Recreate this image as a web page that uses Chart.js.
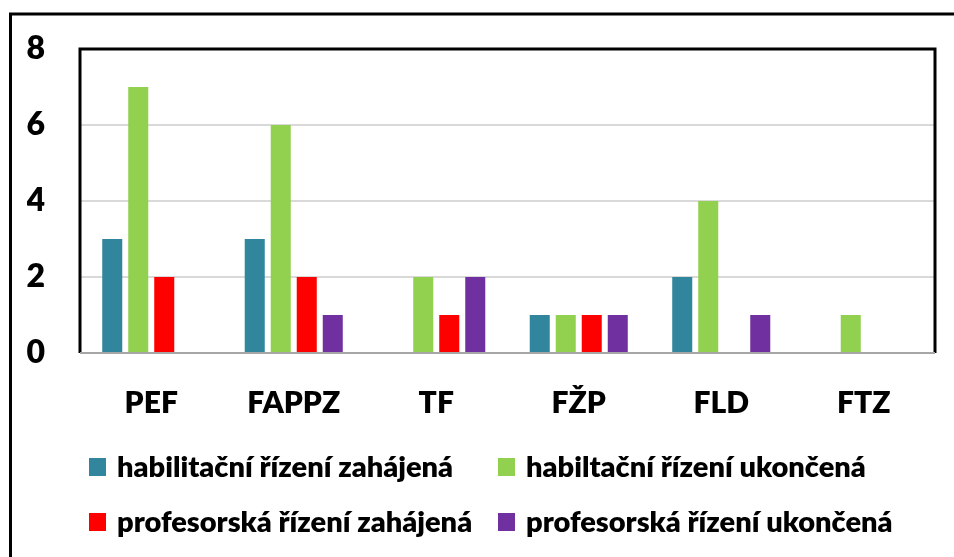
<!DOCTYPE html>
<html>
<head>
<meta charset="utf-8">
<script src="https://cdn.jsdelivr.net/npm/chart.js@4"></script>
<style>
  html, body { margin: 0; padding: 0; background: #fff; }
  #wrap { position: relative; width: 954px; height: 557px; }
</style>
</head>
<body>
<div id="wrap"><canvas id="chart" width="954" height="557"></canvas></div>
<script>
// fakulty
var categories = ['PEF', 'FAPPZ', 'TF', 'FŽP', 'FLD', 'FTZ'];

// počty řízení
var habZahajena = [3, 3, 0, 1, 2, 0];
var habUkoncena = [7, 6, 2, 1, 4, 1];
var profZahajena = [2, 2, 1, 1, 0, 0];
var profUkoncena = [0, 1, 2, 1, 1, 0];

var seriesLabels = ['habilitační řízení zahájená', 'habiltační řízení ukončená',
                    'profesorská řízení zahájená', 'profesorská řízení ukončená'];
var seriesColors = ['#31859C', '#92D050', '#FF0000', '#7030A0'];

var fontFam = 'Lato, "Open Sans", sans-serif';
var fontWeight = 800;

// rámeček okolo celého grafu + rámeček plochy grafu
var framePlugin = {
    id: 'frame',
    beforeDraw: function (chart) {
        var ctx = chart.ctx;
        ctx.save();
        ctx.fillStyle = '#fff';
        ctx.fillRect(0, 0, chart.width, chart.height);
        ctx.strokeStyle = '#000';
        ctx.lineWidth = 3;
        ctx.strokeRect(10.5, 14, 2000, 2000);
        ctx.restore();
    },
    afterDatasetsDraw: function (chart) {
        var a = chart.chartArea, ctx = chart.ctx;
        ctx.save();
        ctx.strokeStyle = '#000';
        ctx.lineWidth = 3;
        ctx.beginPath();
        ctx.moveTo(a.left, a.bottom);
        ctx.lineTo(a.left, a.top);
        ctx.lineTo(a.right, a.top);
        ctx.lineTo(a.right, a.bottom);
        ctx.stroke();
        ctx.strokeStyle = '#a6a6a6';
        ctx.lineWidth = 2;
        ctx.beginPath();
        ctx.moveTo(a.left, a.bottom);
        ctx.lineTo(a.right, a.bottom);
        ctx.stroke();
        ctx.restore();
    }
};

// legenda ve dvou sloupcích (jako v Excelu)
var legendPlugin = {
    id: 'gridLegend',
    afterDraw: function (chart) {
        var ctx = chart.ctx;
        var colX = [89, 498], rowY = [467, 522];
        ctx.save();
        chart.data.datasets.forEach(function (ds, i) {
            var x = colX[i % 2], y = rowY[Math.floor(i / 2)];
            ctx.fillStyle = ds.backgroundColor;
            ctx.fillRect(x, y - 9, 17, 18);
            ctx.fillStyle = '#000';
            ctx.font = fontWeight + ' 29px ' + fontFam;
            ctx.textBaseline = 'middle';
            ctx.fillText(ds.label, x + 28, y + 1);
        });
        ctx.restore();
    }
};

var datasets = [habZahajena, habUkoncena, profZahajena, profUkoncena].map(function (d, i) {
    return {
        label: seriesLabels[i],
        data: d,
        backgroundColor: seriesColors[i],
        barPercentage: 0.77,
        categoryPercentage: 0.73
    };
});

new Chart(document.getElementById('chart').getContext('2d'), {
    type: 'bar',
    data: { labels: categories, datasets: datasets },
    options: {
        responsive: false, animation: false,
        layout: { padding: { left: 27, top: 49, right: 19, bottom: 135 } },
        scales: {
            x: {
                grid: { display: false, drawTicks: false },
                border: { display: false },
                ticks: { color: '#000', padding: 32, font: { family: fontFam, size: 30, weight: fontWeight } },
                afterFit: function (scale) { scale.height = 69; }
            },
            y: {
                min: 0, max: 8,
                ticks: { stepSize: 2, color: '#000', padding: 35, font: { family: fontFam, size: 32, weight: fontWeight } },
                grid: { color: '#d9d9d9', lineWidth: 2, drawTicks: false },
                border: { display: false },
                afterFit: function (scale) {
                    scale.width = 53;
                    scale.paddingTop = 0;
                    scale.paddingBottom = 0;
                }
            }
        },
        plugins: { legend: { display: false }, tooltip: { enabled: false } }
    },
    plugins: [framePlugin, legendPlugin]
});
</script>
</body>
</html>
